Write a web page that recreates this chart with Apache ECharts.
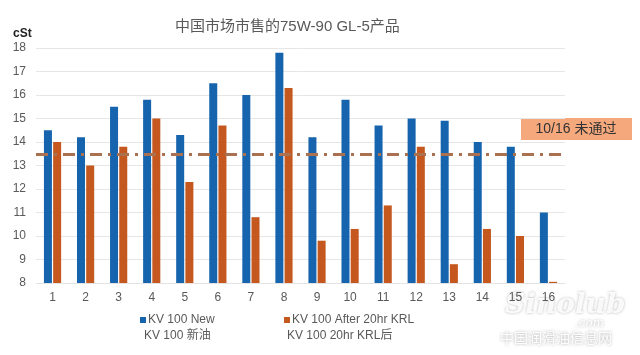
<!DOCTYPE html>
<html><head><meta charset="utf-8">
<script src="https://cdn.jsdelivr.net/npm/echarts@6/dist/echarts.min.js"></script>
<style>html,body{margin:0;padding:0;background:#fff}#c{width:640px;height:355px}</style>
</head><body><div id="c"></div>
<script>
const categories = ['1','2','3','4','5','6','7','8','9','10','11','12','13','14','15','16'];
const kvNew = [14.5,14.2,15.5,15.8,14.3,16.5,16.0,17.8,14.2,15.8,14.7,15.0,14.9,14.0,13.8,11.0];
const kvAfter = [14.0,13.0,13.8,15.0,12.3,14.7,10.8,16.3,9.8,10.3,11.3,13.8,8.8,10.3,10.0,8.05];
const limitValue = 13.5;
const seriesNames = ['KV 100 New','KV 100 After 20hr KRL'];
const seriesNamesCn = ['KV 100 新油','KV 100 20hr KRL后'];
const titleText = '中国市场市售的75W-90 GL-5产品';
const noteText = '10/16 未通过';
const FONT = '"Liberation Sans", Arial, "Noto Sans CJK SC", sans-serif';

const chart = echarts.init(document.getElementById('c'), null, {renderer:'canvas'});
chart.setOption({
  animation:false,
  backgroundColor:'#fff',
  textStyle:{fontFamily:FONT},
  grid:{left:36,right:75,top:48,bottom:72},
  legend:[
    {data:[seriesNames[0]],left:135,top:309,icon:'rect',itemWidth:6,itemHeight:6,itemGap:4,
     textStyle:{fontSize:12,color:'#595959',fontFamily:FONT,padding:[0,0,0,-3]}},
    {data:[seriesNames[1]],left:279,top:309,icon:'rect',itemWidth:6,itemHeight:6,itemGap:4,
     textStyle:{fontSize:12,color:'#595959',fontFamily:FONT,padding:[0,0,0,-3]}}
  ],
  xAxis:{type:'category',data:categories,
    axisLine:{show:true,lineStyle:{color:'#e3e3e3'}},axisTick:{show:false},
    axisLabel:{color:'#595959',fontSize:12,margin:9,fontFamily:FONT}},
  yAxis:{type:'value',min:8,max:18,interval:1,
    axisLine:{show:false},axisTick:{show:false},
    axisLabel:{color:'#595959',fontSize:12,margin:10,fontFamily:FONT},
    splitLine:{lineStyle:{color:'#e6e6e6',width:1}}},
  series:[
    {name:seriesNames[0],type:'bar',data:kvNew,barWidth:8,barGap:'15%',
     itemStyle:{color:'#1564ad'},
     markLine:{silent:true,symbol:'none',label:{show:false},
       lineStyle:{color:'#a9714f',width:3,type:[12,6,3,6]},
       data:[{yAxis:limitValue}]}},
    {name:seriesNames[1],type:'bar',data:kvAfter,barWidth:8,
     itemStyle:{color:'#c4581f'}}
  ],
  graphic:[
    {type:'text',left:175,top:19,style:{text:titleText,fontSize:15,fill:'#595959',fontFamily:FONT}},
    {type:'text',left:13,top:28,style:{text:'cSt',fontSize:12,fontWeight:'bold',fill:'#222',fontFamily:FONT}},
    {type:'rect',shape:{x:521,y:118,width:111,height:22},style:{fill:'#f4a87c'}},
    {type:'text',x:576,y:129,style:{text:noteText,fontSize:14,fill:'#333',align:'center',verticalAlign:'middle',fontFamily:FONT}},
    {type:'text',left:144,top:330,style:{text:seriesNamesCn[0],fontSize:12,fill:'#595959',fontFamily:FONT}},
    {type:'text',left:287,top:330,style:{text:seriesNamesCn[1],fontSize:12,fill:'#595959',fontFamily:FONT}},
    {type:'text',left:505,top:292,style:{text:'Sinolub',fontSize:28,fontStyle:'italic',fontWeight:'bold',fontFamily:'"DejaVu Serif", serif',fill:'rgba(255,255,255,0.9)',textShadowColor:'rgba(140,140,140,0.7)',textShadowBlur:3}},
    {type:'text',left:575,top:318,style:{text:'.com',fontSize:12,fontStyle:'italic',fontFamily:'"DejaVu Serif", serif',fill:'rgba(255,255,255,0.95)',textShadowColor:'rgba(140,140,140,0.7)',textShadowBlur:3}},
    {type:'text',left:500,top:331,style:{text:'中国润滑油信息网',fontSize:14,fontFamily:'"Noto Sans CJK SC", sans-serif',fill:'rgba(255,255,255,0.95)',textShadowColor:'rgba(140,140,140,0.8)',textShadowBlur:3}}
  ]
});
</script></body></html>
